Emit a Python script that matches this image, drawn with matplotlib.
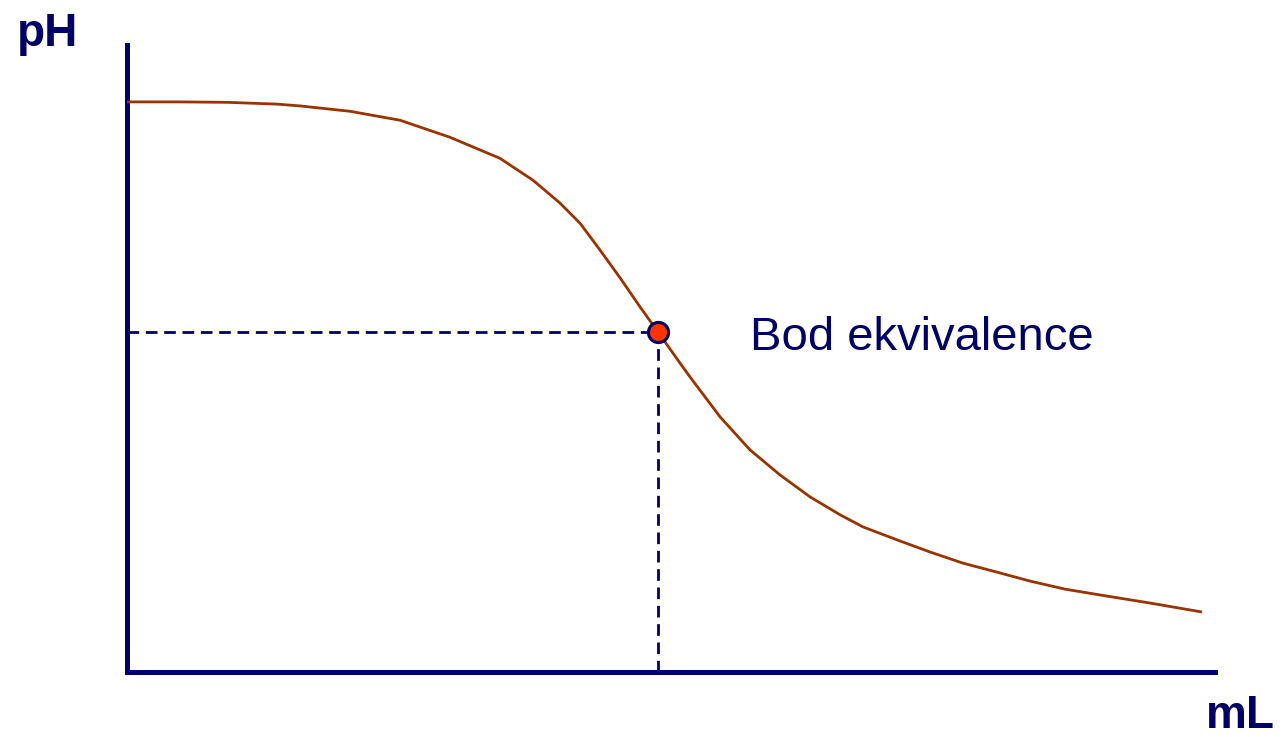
import matplotlib
matplotlib.use("Agg")
import matplotlib.pyplot as plt

# Titration curve (volume in mL, pH)
volume_ml = [0.0, 2.30, 4.60, 6.89, 7.95, 10.25, 12.55, 14.84, 17.14, 18.66,
             19.90, 20.82, 21.74, 22.66, 23.58, 24.36, 25.41, 25.87, 27.25,
             28.63, 30.01, 31.39, 32.77, 33.82, 35.39, 36.90, 38.42, 39.98,
             41.50, 43.11, 44.72, 47.01, 49.40]
ph_values = [12.73, 12.73, 12.72, 12.68, 12.64, 12.52, 12.32, 11.94, 11.47, 10.98,
             10.47, 10.02, 9.42, 8.80, 8.15, 7.62, 6.90, 6.59, 5.70,
             4.96, 4.40, 3.91, 3.51, 3.24, 2.95, 2.68, 2.43, 2.23,
             2.03, 1.85, 1.72, 1.54, 1.34]
equiv_volume = 24.40
equiv_ph = 7.59
equiv_label = "Bod ekvivalence"
x_label = "mL"
y_label = "pH"

NAVY = "#000066"
CURVE = "#993300"
MARK = "#ff3300"

W, H = 1285, 737
fig = plt.figure(figsize=(W / 100, H / 100), dpi=100)
ax = fig.add_axes([127 / W, (H - 672) / H, (1215 - 127) / W, (672 - 45) / H])
ax.set_xlim(0, 50)
ax.set_ylim(0, 14)
for s in ("top", "right"):
    ax.spines[s].set_visible(False)
for s in ("left", "bottom"):
    ax.spines[s].set_color(NAVY)
    ax.spines[s].set_linewidth(3.6)
    ax.spines[s].set_capstyle("projecting")
ax.set_xticks([])
ax.set_yticks([])

ax.plot(volume_ml, ph_values, color=CURVE, lw=2.0, solid_capstyle="butt",
        solid_joinstyle="round", zorder=3)

ax.plot([0, equiv_volume], [equiv_ph, equiv_ph], color=NAVY, lw=2.0,
        dashes=(4.2, 2.4), zorder=2)
ax.plot([equiv_volume, equiv_volume], [0, equiv_ph], color=NAVY, lw=2.0,
        dashes=(4.2, 2.4), zorder=2)
ax.plot([equiv_volume], [equiv_ph], marker="o", ms=14.5, mfc=MARK, mec=NAVY,
        mew=2.2, zorder=4, clip_on=False)

ax.text(28.63, 7.19, equiv_label, color=NAVY, fontsize=34,
        family="Liberation Sans", va="baseline", ha="left")

fig.text(17 / W, (H - 46) / H, y_label, color=NAVY, fontsize=33,
         fontweight="bold", family="Liberation Sans", va="baseline", ha="left")
fig.text(1206 / W, (H - 728) / H, x_label, color=NAVY, fontsize=33,
         fontweight="bold", family="Liberation Sans", va="baseline", ha="left")

fig.savefig("out.png", dpi=100, facecolor="white")
